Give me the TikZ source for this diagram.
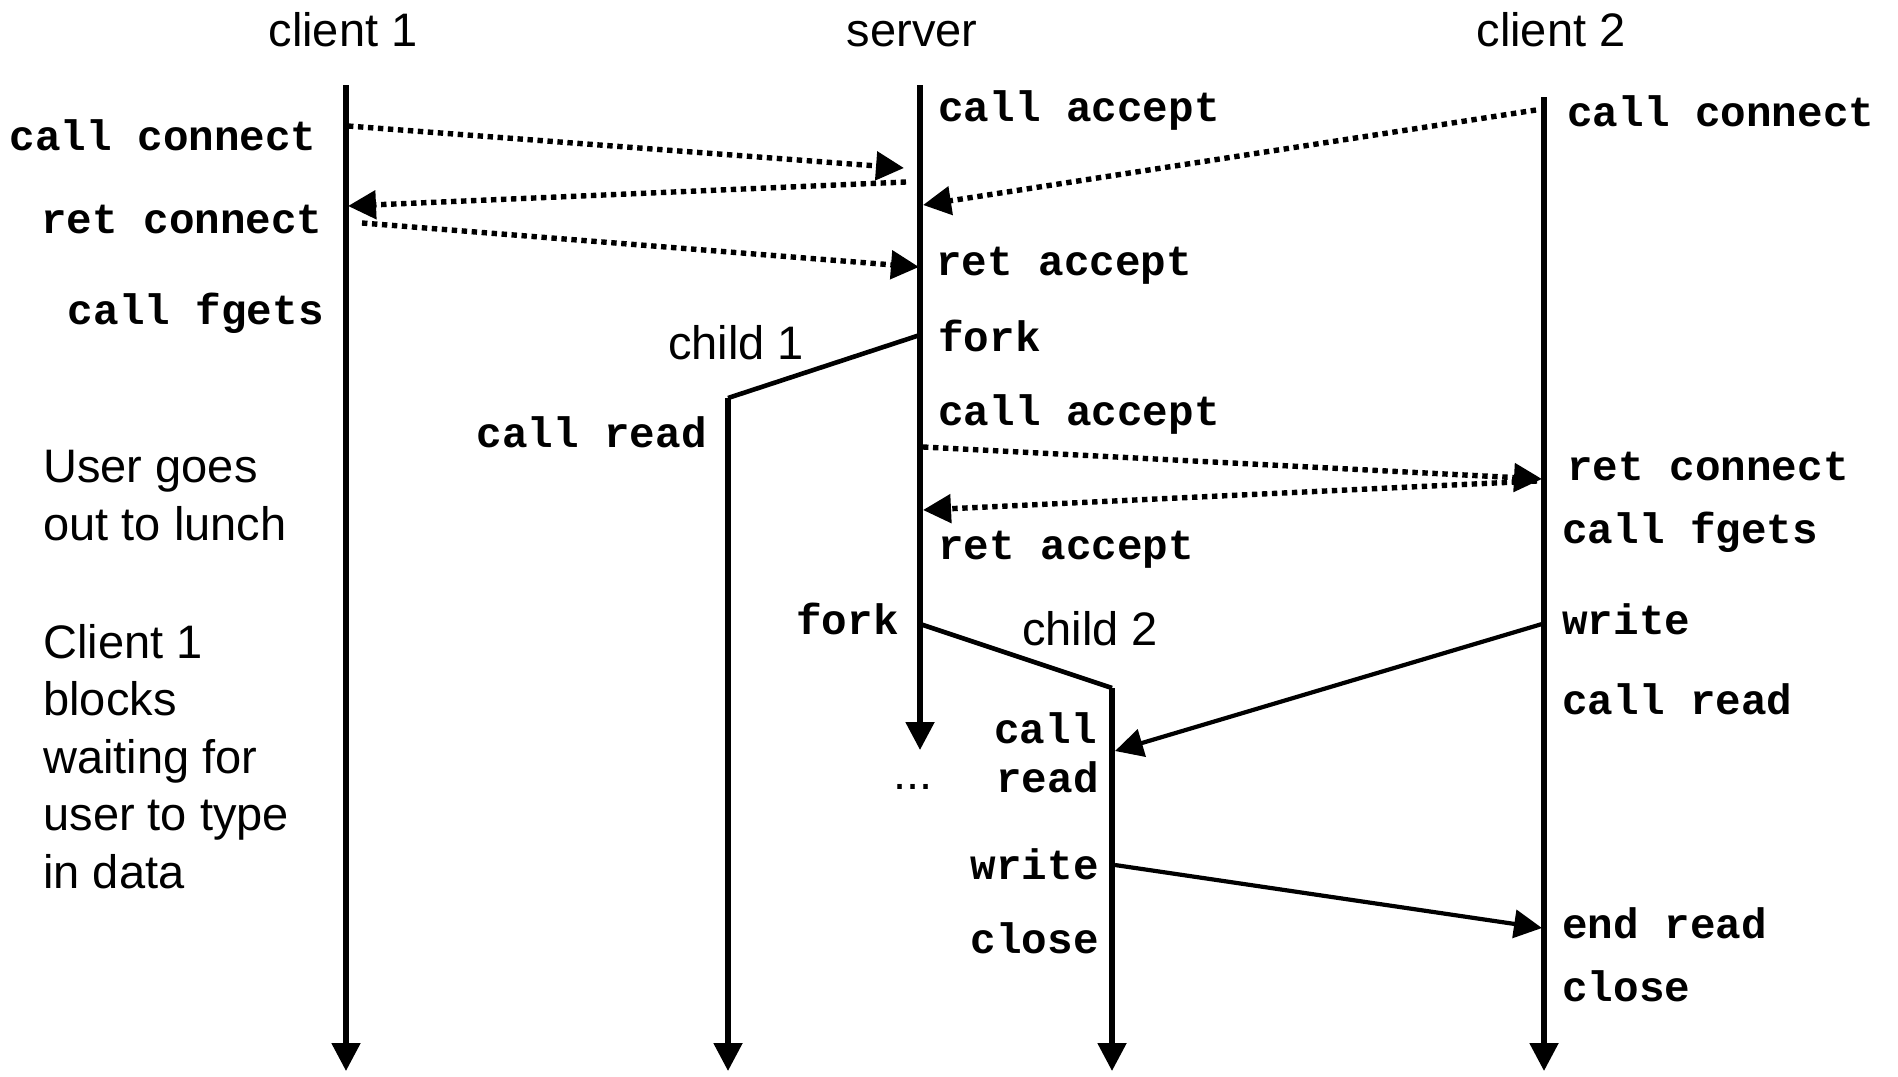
\documentclass[tikz,border=0pt]{standalone}
\usepackage{fontspec}
\setmainfont{Liberation Sans}
\setmonofont{Liberation Mono}
\usepackage{tikz}
\usetikzlibrary{arrows.meta}
\tikzset{
  life/.style={line width=2.6pt, -{Triangle[length=14pt,width=14pt]}},
  branch/.style={line width=2.3pt},
  conn/.style={line width=2.7pt, dash pattern=on 2.7pt off 2.3pt,
    -{Triangle[length=14pt,width=14pt]}},
  data/.style={line width=2.1pt, -{Triangle[length=14pt,width=14pt]}},
  who/.style={font=\fontsize{23.5}{28.75}\selectfont, inner sep=0pt},
  note/.style={font=\fontsize{23.5}{28.75}\selectfont, inner sep=0pt, align=left},
  call/.style={font=\ttfamily\bfseries\fontsize{21.3}{25}\selectfont, inner sep=0pt},
}
\begin{document}
\begin{tikzpicture}[x=0.5pt, y=-0.5pt]
  \useasboundingbox (0,0) rectangle (1898,1076);
  % process lines
  \coordinate (c1top) at (346,85);
  \coordinate (c1end) at (346,1071);
  \coordinate (srvtop) at (920,85);
  \coordinate (srvend) at (920,750);
  \coordinate (c2top) at (1544,97);
  \coordinate (c2end) at (1544,1071);
  \coordinate (fork1) at (920,335);
  \coordinate (ch1top) at (728,398);
  \coordinate (ch1end) at (728,1071);
  \coordinate (fork2) at (920,624);
  \coordinate (ch2top) at (1112,688);
  \coordinate (ch2end) at (1112,1071);
  \draw[life] (c1top) -- (c1end);
  \draw[life] (srvtop) -- (srvend);
  \draw[life] (c2top) -- (c2end);
  \draw[branch] (fork1) -- (ch1top);
  \draw[life] (ch1top) -- (ch1end);
  \draw[branch] (fork2) -- (ch2top);
  \draw[life] (ch2top) -- (ch2end);

  \node[who, anchor=base] (hc1) at (343,46) {client 1};
  \node[who, anchor=base] (hsrv) at (912,46) {server};
  \node[who, anchor=base] (hc2) at (1551,46) {client 2};
  \node[who, anchor=base] (hch1) at (736,359) {child 1};
  \node[who, anchor=base] (hch2) at (1090,645) {child 2};
  \node[who, anchor=base] (dots) at (913,789) {...};

  \node[note, anchor=north west] (lunch) at (43,450) {User goes\\out to lunch};
  \node[note, anchor=north west] (blocks) at (43,624) {Client 1\\blocks\\waiting for\\user to type\\in data};

  % client 1
  \node[call, anchor=base east] (c1call) at (317,150) {call connect};
  \node[call, anchor=base east] (c1ret) at (323,233) {ret connect};
  \node[call, anchor=base east] (c1fgets) at (324,324) {call fgets};
  % server
  \node[call, anchor=base west] (sacc1) at (938,121) {call accept};
  \node[call, anchor=base west] (sret1) at (936,275) {ret accept};
  \node[call, anchor=base west] (sfork1) at (938,351) {fork};
  \node[call, anchor=base west] (sacc2) at (938,425) {call accept};
  \node[call, anchor=base west] (sret2) at (938,559) {ret accept};
  \node[call, anchor=base east] (sfork2) at (899,634) {fork};
  % children
  \node[call, anchor=base east] (ch1read) at (707,447) {call read};
  \node[call, anchor=base east] (ch2call) at (1097,743) {call};
  \node[call, anchor=base east] (ch2read) at (1099,792) {read};
  \node[call, anchor=base east] (ch2write) at (1099,879) {write};
  \node[call, anchor=base east] (ch2close) at (1099,953) {close};
  % client 2
  \node[call, anchor=base west] (c2call) at (1567,126) {call connect};
  \node[call, anchor=base west] (c2ret) at (1567,480) {ret connect};
  \node[call, anchor=base west] (c2fgets) at (1562,543) {call fgets};
  \node[call, anchor=base west] (c2write) at (1562,634) {write};
  \node[call, anchor=base west] (c2read) at (1562,714) {call read};
  \node[call, anchor=base west] (c2end) at (1562,938) {end read};
  \node[call, anchor=base west] (c2close) at (1562,1001) {close};

  % connection set-up
  \coordinate (m1a) at (348,126);  \coordinate (m1b) at (904,168);
  \coordinate (m2a) at (906,182);  \coordinate (m2b) at (348,206);
  \coordinate (m3a) at (362,223);  \coordinate (m3b) at (919,267);
  \coordinate (m4a) at (1536,110); \coordinate (m4b) at (923,205);
  \coordinate (m5a) at (923,447);  \coordinate (m5b) at (1542,479);
  \coordinate (m6a) at (1537,481); \coordinate (m6b) at (923,510);
  \draw[conn] (m1a) -- (m1b);
  \draw[conn] (m2a) -- (m2b);
  \draw[conn] (m3a) -- (m3b);
  \draw[conn] (m4a) -- (m4b);
  \draw[conn] (m5a) -- (m5b);
  \draw[conn] (m6a) -- (m6b);
  % data
  \coordinate (d1a) at (1542,624); \coordinate (d1b) at (1115,751);
  \coordinate (d2a) at (1115,865); \coordinate (d2b) at (1542,928);
  \draw[data] (d1a) -- (d1b);
  \draw[data] (d2a) -- (d2b);
\end{tikzpicture}
\end{document}
